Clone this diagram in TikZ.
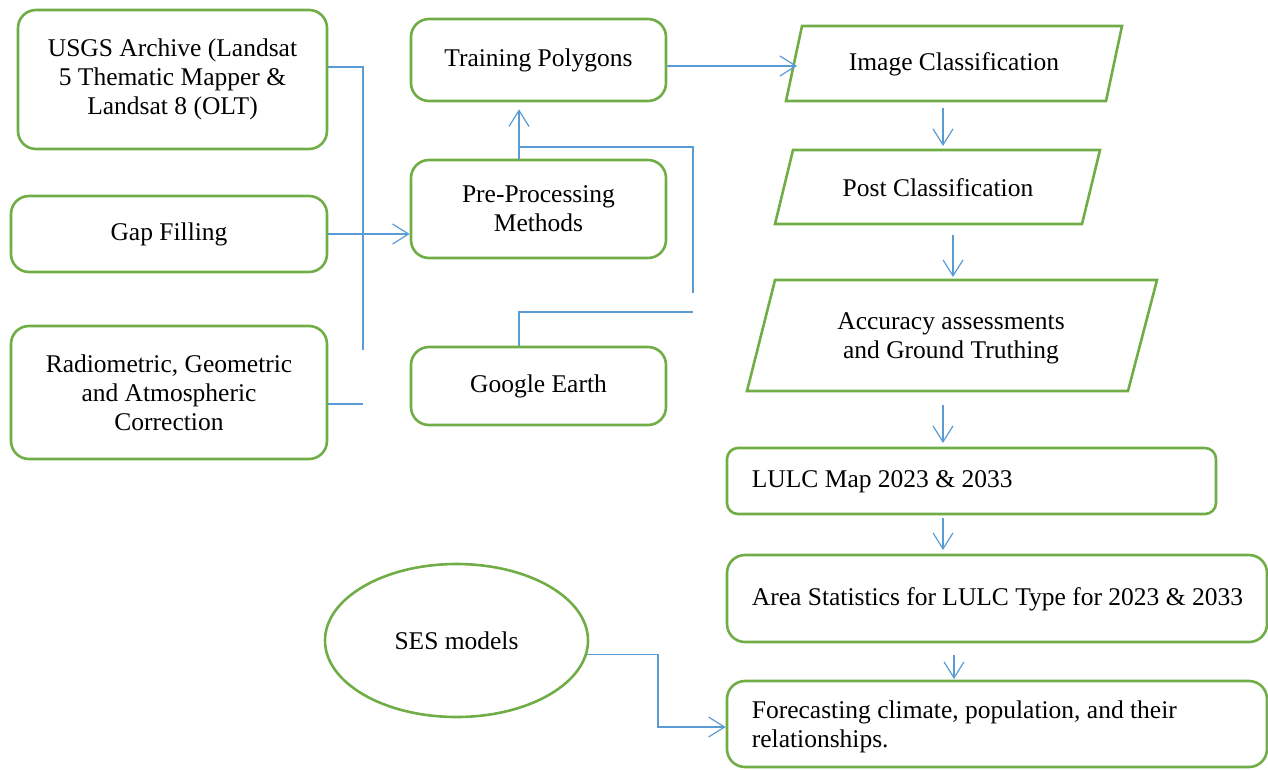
\documentclass[tikz,border=0pt]{standalone}
\usepackage{fontspec}
\setmainfont{Liberation Serif}
\usetikzlibrary{arrows.meta,shapes.geometric}
\definecolor{gr}{HTML}{70AD47}
\definecolor{bl}{HTML}{5B9BD5}
\newcommand\myfs{\fontsize{25.5}{29}\selectfont}
\begin{document}
\begin{tikzpicture}[x=1pt,y=-1pt,
  box/.style={draw=gr, line width=2.6pt, rounded corners=18pt, align=center, font=\myfs, inner sep=0pt},
  sbox/.style={box, rounded corners=11pt},
  par/.style={draw=gr, line width=2.6pt, line join=miter},
  txt/.style={font=\myfs, align=center, inner sep=0pt},
  ltxt/.style={font=\myfs, align=left, inner sep=0pt, anchor=west},
  con/.style={draw=bl, line width=1.2pt},
  arr/.style={con, -{Straight Barb[length=16pt,width=20pt,line width=1.2pt]}}
]
\useasboundingbox (0,0) rectangle (1268,769);
% left column
\node[box, minimum width=309pt, minimum height=139pt] (usgs) at (172.5,79.5)
  {USGS Archive (Landsat\\5 Thematic Mapper \&\\Landsat 8 (OLT)};
\node[box, minimum width=316pt, minimum height=76pt] (gap) at (169,234) {Gap Filling};
\node[box, minimum width=316pt, minimum height=133pt] (radio) at (169,392.5)
  {Radiometric, Geometric\\and Atmospheric\\Correction};
% middle column
\node[box, minimum width=255pt, minimum height=82pt] (train) at (538.5,60) {Training Polygons};
\node[box, minimum width=255pt, minimum height=98pt] (pre) at (538.5,209) {Pre-Processing\\Methods};
\node[box, minimum width=255pt, minimum height=78pt] (google) at (538.5,386) {Google Earth};
% parallelograms
\draw[par] (802,26) -- (1122,26) -- (1106,101) -- (786,101) -- cycle;
\node[txt] (ic) at (954,64) {Image Classification};
\draw[par] (793,150) -- (1100,150) -- (1082,224) -- (775,224) -- cycle;
\node[txt] (pc) at (938,188) {Post Classification};
\draw[par] (775,280) -- (1157,280) -- (1128,391) -- (747,391) -- cycle;
\node[txt] (acc) at (951,338) {Accuracy assessments\\and Ground Truthing};
% right boxes
\node[sbox, minimum width=489pt, minimum height=66pt] (lulc) at (971.5,481) {};
\node[ltxt] (lulct) at ([xshift=26pt,yshift=-1pt]lulc.west) {LULC Map 2023 \& 2033};
\node[box, minimum width=540pt, minimum height=87pt] (area) at (997,598.5) {};
\node[ltxt] (areat) at ([xshift=26pt,yshift=-1pt]area.west) {Area Statistics for LULC Type for 2023 \& 2033};
\node[box, minimum width=540pt, minimum height=86pt] (fore) at (997,724) {};
\node[ltxt] (foret) at ([xshift=26pt,yshift=-3pt]fore.west) {Forecasting climate, population, and their\\relationships.};
% ellipse
\node[ellipse, draw=gr, line width=2.6pt, minimum width=263pt, minimum height=153pt, font=\myfs, inner sep=0pt] (ses) at (456.5,640.5) {SES models};
% coordinates
\coordinate (j1) at (363,67);
\coordinate (j1e) at (363,350);
\coordinate (r1) at (363,404);
\coordinate (p1) at (519,147);
\coordinate (p2) at (693,293);
\coordinate (g1) at (693,312);
\coordinate (t1) at (797,66);
\coordinate (a1) at (943,108);
\coordinate (a2) at (943,146);
\coordinate (b1) at (953,235);
\coordinate (b2) at (953,277);
\coordinate (c1) at (943,405);
\coordinate (c2) at (943,443);
\coordinate (d1) at (943,518);
\coordinate (d2) at (943,550);
\coordinate (e1) at (954,655);
\coordinate (e2) at (954,679);
\coordinate (s1) at (658,727);
% connectors
\draw[con] (usgs.east |- j1) -| (j1e);
\draw[arr] (gap.east) -- (gap.east -| pre.west);
\draw[con] (radio.east |- r1) -- (r1);
\draw[arr, shorten >=7pt] (pre.north -| p1) -- (train.south -| p1);
\draw[con] (p1) -| (p2);
\draw[con] (google.north -| p1) |- (g1);
\draw[arr] (train.east |- t1) -- (t1);
\draw[arr] (a1) -- (a2);
\draw[arr] (b1) -- (b2);
\draw[arr] (c1) -- (c2);
\draw[arr] (d1) -- (d2);
\draw[arr] (e1) -- (e2);
\draw[arr] (ses.-6) -| (s1) -- (fore.west |- s1);
\end{tikzpicture}
\end{document}
